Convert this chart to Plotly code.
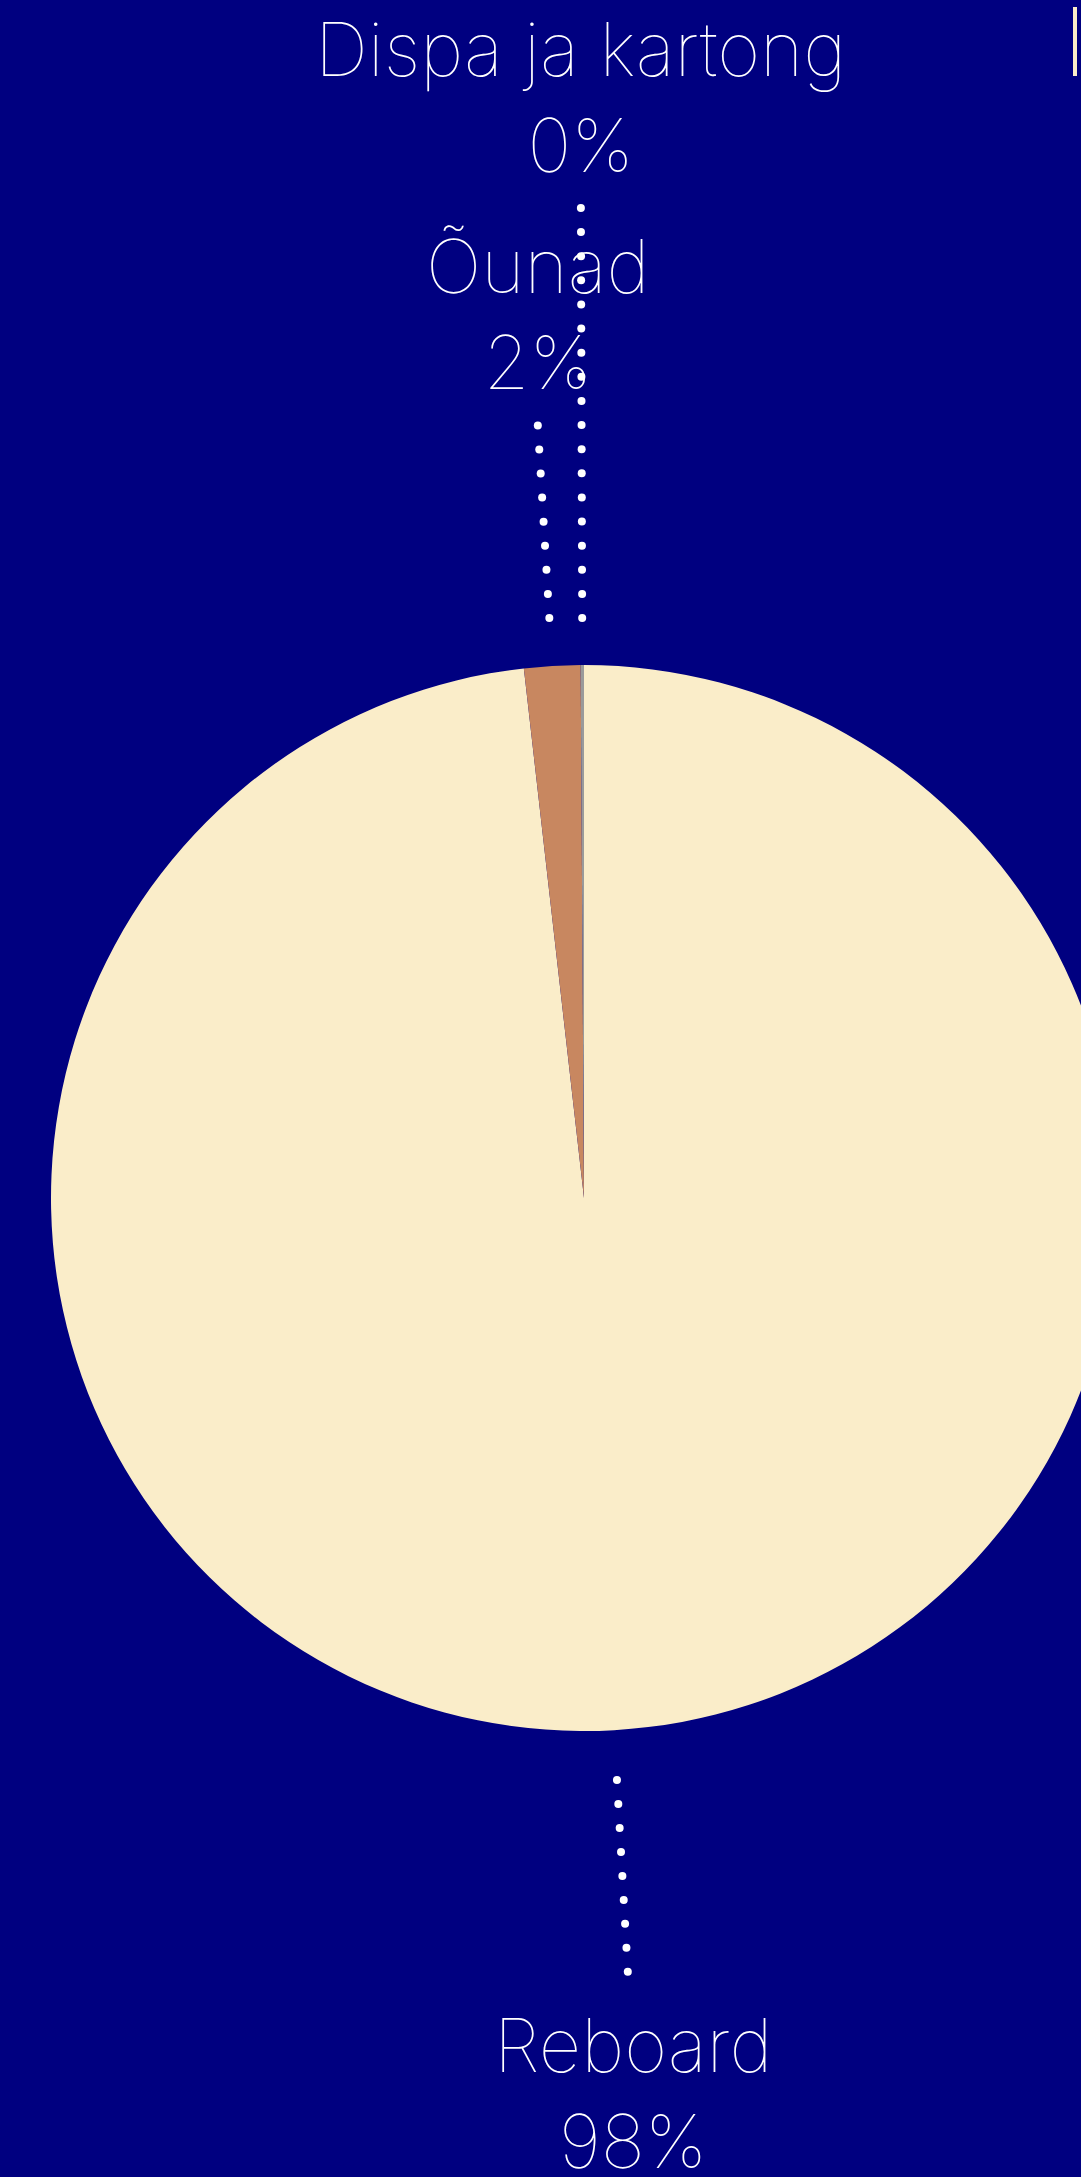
import math
import plotly.graph_objects as go

# ---- data ----
labels = ["Reboard", "Õunad", "Dispa ja kartong"]
values = [98.2, 1.7, 0.1]
pct_labels = ["98%", "2%", "0%"]
colors = ["#FAEDC9", "#C88760", "#9A9A9A"]

# ---- layout constants (pixels) ----
W, H = 1130, 2177
CX, CY, R = 584, 1198, 533
BG = "#000080"
FONT = "Inter"
FS = 74

# leader line radii (start, end) per slice
leader = {"Reboard": (583, 775), "Õunad": (581, 774), "Dispa ja kartong": (580, 990)}

fig = go.Figure()
fig.add_trace(go.Pie(
    labels=labels, values=values, sort=False, direction="clockwise", rotation=0,
    marker=dict(colors=colors, line=dict(width=0)),
    textinfo="none", hoverinfo="label+percent", showlegend=False,
    domain=dict(x=[(CX - R) / W, (CX + R) / W],
                y=[(H - CY - R) / H, (H - CY + R) / H]),
))

# leader dots along the mid-angle of each slice
total = sum(values)
cum = 0.0
dx, dy = [], []
annots = []
for lab, v, p in zip(labels, values, pct_labels):
    mid = (cum + v / 2) / total * 2 * math.pi
    cum += v
    sx, sy = math.sin(mid), -math.cos(mid)
    r0, r1 = leader[lab]
    n = int(round((r1 - r0) / 24))
    for i in range(n + 1):
        r = r0 + (r1 - r0) * i / n
        dx.append(CX + r * sx)
        dy.append(CY + r * sy)
    ex, ey = CX + r1 * sx, CY + r1 * sy
    if sy < 0:
        annots.append(dict(x=ex, y=ey - 16, text=f"{lab}<br>{p}", yanchor="bottom"))
    else:
        annots.append(dict(x=ex + 5, y=ey + 26, text=f"{lab}<br>{p}", yanchor="top"))

fig.add_trace(go.Scatter(x=dx, y=dy, mode="markers", hoverinfo="skip", showlegend=False,
                         marker=dict(size=8, color="white", line=dict(width=0))))

for a in annots:
    fig.add_annotation(x=a["x"], y=a["y"], text=a["text"], xref="x", yref="y",
                       showarrow=False, xanchor="center", yanchor=a["yanchor"],
                       font=dict(family=FONT, size=FS, color="white", weight=100))

fig.add_shape(type="rect", xref="x", yref="y", x0=1073, x1=1077, y0=7, y1=76,
              fillcolor="#FAEDC9", line=dict(width=0))

fig.update_layout(
    width=W, height=H, margin=dict(l=0, r=0, t=0, b=0),
    paper_bgcolor=BG, plot_bgcolor="rgba(0,0,0,0)",
    xaxis=dict(range=[0, W], visible=False, fixedrange=True),
    yaxis=dict(range=[H, 0], visible=False, fixedrange=True),
)
fig.write_html("out.html", config={"displayModeBar": False},
               post_script="document.body.style.margin='0';document.body.style.overflow='hidden';")
